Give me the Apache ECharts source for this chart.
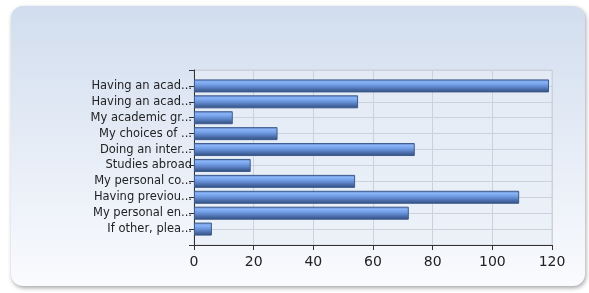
<!DOCTYPE html>
<html>
<head>
<meta charset="utf-8">
<title>chart</title>
<script src="https://cdn.jsdelivr.net/npm/echarts@6/dist/echarts.min.js"></script>
<style>
html, body { margin: 0; padding: 0; background: #fff; }
#main { width: 589px; height: 293px; }
</style>
</head>
<body>
<div id="main"></div>
<script type="text/javascript">
	// answer labels (top to bottom) and counts
	var answers = ['Having an acad...', 'Having an acad...', 'My academic gr...', 'My choices of ...',
		'Doing an inter...', 'Studies abroad', 'My personal co...', 'Having previou...',
		'My personal en...', 'If other, plea...'];
	var counts = [119, 55, 13, 28, 74, 19, 54, 109, 72, 6];
	var xTicks = [0, 20, 40, 60, 80, 100, 120];

	// empty slot above and below, like the original
	var cats = [''].concat(answers).concat(['']);
	var vals = [null].concat(counts).concat([null]);

	var chart = echarts.init(document.getElementById('main'));
	var option = {
		animation : false,
		graphic : [ {
			type : 'rect',
			z : -10,
			shape : { x : 11, y : 6, width : 574, height : 280, r : 12 },
			style : {
				fill : new echarts.graphic.LinearGradient(0, 0, 0, 1, [
					{ offset : 0, color : '#d1ddee' },
					{ offset : 1, color : '#fafbfe' } ]),
				shadowBlur : 4,
				shadowColor : 'rgba(0,0,0,0.35)',
				shadowOffsetX : 1,
				shadowOffsetY : 2
			}
		} ],
		grid : {
			left : 194,
			right : 37,
			top : 70,
			bottom : 48,
			show : true,
			backgroundColor : 'rgba(232,238,247,0.6)',
			borderColor : '#cdd3dc',
			borderWidth : 1
		},
		xAxis : {
			type : 'value',
			min : xTicks[0],
			max : xTicks[xTicks.length - 1],
			interval : 20,
			axisLine : { show : true, lineStyle : { color : '#333', width : 1 } },
			axisTick : { show : true, length : 5, lineStyle : { color : '#333' } },
			axisLabel : { color : '#222', fontFamily : 'DejaVu Sans', fontSize : 14, margin : 10 },
			splitLine : { show : true, lineStyle : { color : '#ccd2db' } }
		},
		yAxis : {
			type : 'category',
			inverse : true,
			boundaryGap : false,
			data : cats,
			axisLine : { show : true, lineStyle : { color : '#333', width : 1 } },
			axisTick : { show : true, length : 5, lineStyle : { color : '#333' } },
			axisLabel : { interval : 0, color : '#222', fontFamily : 'DejaVu Sans', fontSize : 11.5, margin : 2 },
			splitLine : { show : true, lineStyle : { color : '#ccd2db' } }
		},
		series : [ {
			type : 'bar',
			data : vals,
			barWidth : 13,
			itemStyle : {
				borderColor : '#3d5b8c',
				borderWidth : 1,
				color : new echarts.graphic.LinearGradient(0, 0, 0, 1, [
					{ offset : 0, color : '#5f89d0' },
					{ offset : 0.2, color : '#8ab4f6' },
					{ offset : 0.45, color : '#6d99e2' },
					{ offset : 1, color : '#2f4b7c' } ])
			}
		} ]
	};
	chart.setOption(option);
</script>
</body>
</html>
